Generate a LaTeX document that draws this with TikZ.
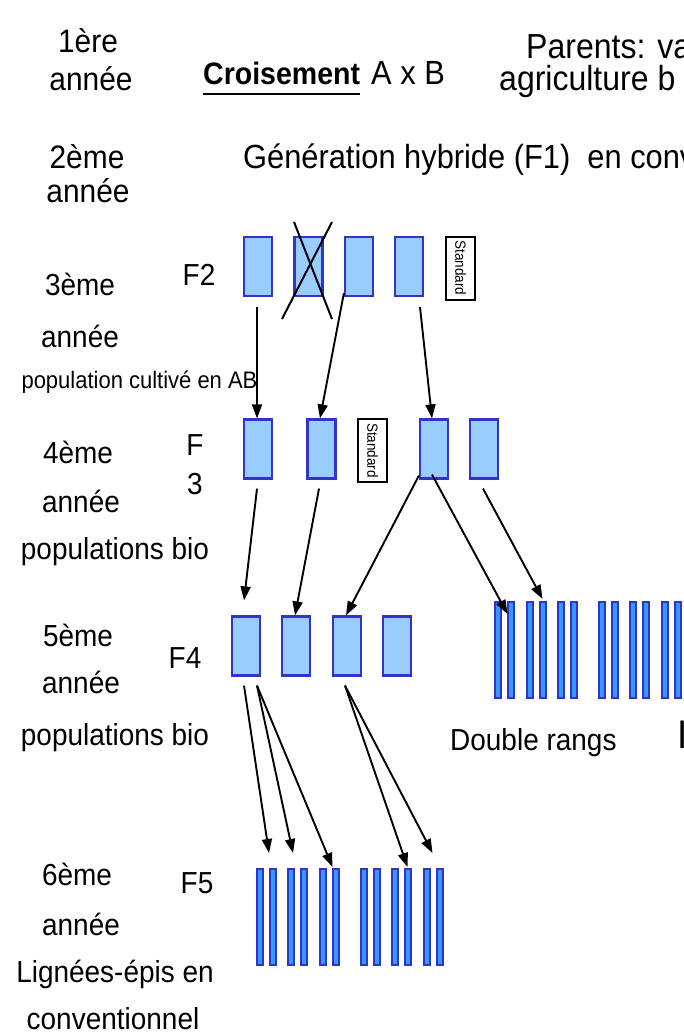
\documentclass[tikz,border=0pt]{standalone}
\usepackage{fontspec}
\setmainfont[FakeStretch=0.92]{Liberation Sans}
\usetikzlibrary{arrows.meta}
\newcommand{\myfs}[1]{\fontsize{#1}{#1}\selectfont}
\definecolor{boxblue}{HTML}{3333CC}
\definecolor{lightblue}{HTML}{99CCFF}
\definecolor{stripeblue}{HTML}{3399FF}
\tikzset{
  lab/.style={font=\myfs{30.4}, inner sep=0, anchor=base},
  labw/.style={font=\myfs{30.4}, inner sep=0, anchor=base west},
  toplab/.style={font=\myfs{32.5}, inner sep=0, anchor=base},
  pbox/.style={draw=boxblue, fill=lightblue, line width=2.2pt, minimum width=28pt, minimum height=59pt, inner sep=0},
  stdbox/.style={draw=black, fill=white, line width=2pt, minimum width=29pt, minimum height=63pt, inner sep=0, font=\myfs{14.7}},
  stripe/.style={draw=boxblue, fill=stripeblue, line width=2pt, minimum width=6pt, minimum height=96pt, inner sep=0},
  arr/.style={-{Triangle[length=14pt,width=10pt]}, line width=1.9pt},
}
\begin{document}
\begin{tikzpicture}[x=1pt,y=-1pt]
\useasboundingbox (0,0) rectangle (684,1036);
\clip (0,0) rectangle (684,1036);
% left column
\node[toplab] (y1a) at (88,52) {1ère};
\node[toplab] (y1b) at (91,90) {année};
\node[toplab] (y2a) at (87,168) {2ème};
\node[toplab] (y2b) at (88,202) {année};
\node[lab] (y3a) at (80,295) {3ème};
\node[lab] (y3b) at (80,347) {année};
\node[lab, font=\myfs{23.9}] (y3c) at (139.5,388) {population cultivé en AB};
\node[lab] (y4a) at (78,463) {4ème};
\node[lab] (y4b) at (81,512) {année};
\node[lab] (y4c) at (115,559) {populations bio};
\node[lab] (y5a) at (78,646) {5ème};
\node[lab] (y5b) at (81,693) {année};
\node[lab] (y5c) at (115,745) {populations bio};
\node[lab] (y6a) at (77,885) {6ème};
\node[lab] (y6b) at (81,935) {année};
\node[lab] (y6c) at (115,982) {Lignées-épis en};
\node[lab] (y6d) at (113,1029) {conventionnel};
% F labels
\node[lab] (f2l) at (199,285) {F2};
\node[lab] (f3l1) at (195,455) {F};
\node[lab] (f3l2) at (195,494) {3};
\node[lab] (f4l) at (185,668) {F4};
\node[lab] (f5l) at (197,893) {F5};
% top texts
\node[labw, font=\myfs{31}\bfseries] (cr) at (203,84) {Croisement};
\draw[line width=2.8pt] ([yshift=-10pt]cr.base west) -- ([yshift=-10pt]cr.base east);
\node[labw, font=\myfs{33.5}] (axb) at (371,84) {A x B};
\node[labw, font=\myfs{34.8}] (par) at (526,58) {Parents: va};
\node[labw, font=\myfs{34.8}] (agr) at (499,90) {agriculture b};
\node[labw, font=\myfs{33.5}] (gen) at (243,168) {Génération hybride (F1)\ \ en conv};
% F2 row
\node[pbox] (f2a) at (258,266.5) {};
\node[pbox] (f2b) at (308.5,266.5) {};
\node[pbox] (f2c) at (359,266.5) {};
\node[pbox] (f2d) at (409,266.5) {};
\node[stdbox] (s1) at (460.5,268) {\rotatebox{-90}{Standard}};
\draw[line width=2pt] (294,222) -- (332,319);
\draw[line width=2pt] (332,222) -- (282,319);
% F3 row
\node[pbox] (f3a) at (258,449) {};
\node[pbox] (f3b) at (321.5,449) {};
\node[stdbox] (s2) at (372.5,450.5) {\rotatebox{-90}{Standard}};
\node[pbox] (f3c) at (434,449) {};
\node[pbox] (f3d) at (484,449) {};
% F4 row
\node[pbox] (f4a) at (246,646) {};
\node[pbox] (f4b) at (296,646) {};
\node[pbox] (f4c) at (347,646) {};
\node[pbox] (f4d) at (397,646) {};
% double rangs
\foreach \p [count=\i from 0] in {494,526,557,598,629,661}{
  \pgfmathtruncatemacro{\ja}{2*\i+1}
  \pgfmathtruncatemacro{\jb}{2*\i+2}
  \node[stripe] (d\ja) at (\p+4,650) {};
  \node[stripe] (d\jb) at (\p+16.5,650) {};
}
\node[labw] (dr) at (450,750) {Double rangs};
\node[labw, font=\myfs{40}] (ii) at (677,748) {I};
% F5 stripes
\foreach \p [count=\i from 0] in {256,287,319,360,391,423}{
  \pgfmathtruncatemacro{\ja}{2*\i+1}
  \pgfmathtruncatemacro{\jb}{2*\i+2}
  \node[stripe] (e\ja) at (\p+4,917) {};
  \node[stripe] (e\jb) at (\p+16.5,917) {};
}
% arrows F2 -> F3
\draw[arr] ([xshift=-1pt,yshift=-10pt]f2a.south) -- ([xshift=-1pt]f3a.north);
\draw[arr] ([yshift=4pt]f2c.south west) -- ([xshift=-1.5pt]f3b.north);
\draw[arr] ([xshift=11pt,yshift=-10pt]f2d.south) -- ([xshift=-2pt]f3c.north);
% arrows F3 -> F4 / double rangs
\draw[arr] ([xshift=-1pt,yshift=-9pt]f3a.south) -- ([xshift=-2pt,yshift=15pt]f4a.north);
\draw[arr] ([xshift=-2.5pt,yshift=-9pt]f3b.south) -- ([xshift=-1pt]f4b.north);
\draw[arr] ([yshift=4pt]f3c.south west) -- ([xshift=-1pt]f4c.north);
\draw[arr] ([xshift=-2pt,yshift=5pt]f3c.south) -- ([xshift=-3pt,yshift=-13pt]d2.north);
\draw[arr] ([xshift=-1pt,yshift=-9pt]f3d.south) -- ([yshift=2pt]d4.north);
% arrows F4 -> F5
\draw[arr] ([xshift=-2pt,yshift=-9pt]f4a.south) -- ([xshift=-3.5pt,yshift=15pt]e2.north);
\draw[arr] ([xshift=11pt,yshift=-9pt]f4a.south) -- ([xshift=2pt,yshift=15pt]e3.north);
\draw[arr] ([xshift=11pt,yshift=-9pt]f4a.south) -- ([xshift=-3pt,yshift=1pt]e6.north);
\draw[arr] ([xshift=-2pt,yshift=-9pt]f4c.south) -- ([yshift=1pt]e10.north);
\draw[arr] ([xshift=-2pt,yshift=-9pt]f4c.south) -- ([xshift=5.5pt,yshift=15pt]e11.north);
\end{tikzpicture}
\end{document}
